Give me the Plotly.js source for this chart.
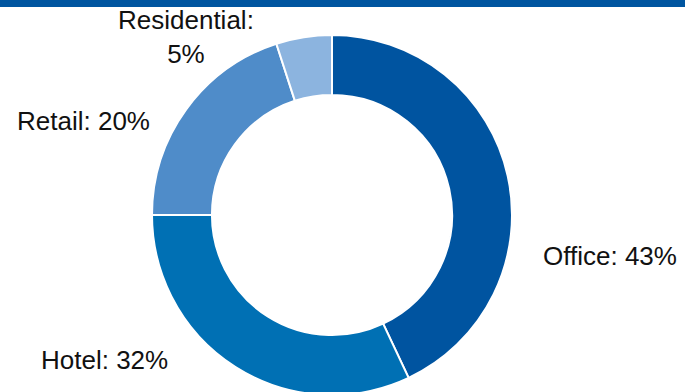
<!DOCTYPE html>
<html>
<head>
<meta charset="utf-8">
<script src="https://cdn.plot.ly/plotly-3.0.1.min.js"></script>
<style>
html,body{margin:0;padding:0;overflow:hidden;background:#fff;}
#chart{width:685px;height:400px;}
</style>
</head>
<body>
<div id="chart"></div>
<script>
const categories = ["Office", "Hotel", "Retail", "Residential"];
const shares = [43, 32, 20, 5];
const labelTexts = ["Office: 43%", "Hotel: 32%", "Retail: 20%", "Residential:<br>5%"];
const colors = ["#0054A0", "#0070B4", "#4F8CC9", "#8CB4DF"];

const W = 685, H = 400;
// label anchor positions in pixels (centre of text)
const labelPos = [[610, 256], [104, 360], [83, 121], [186, 37]];

const annotations = categories.map((c, i) => ({
  x: labelPos[i][0] / W,
  y: 1 - labelPos[i][1] / H,
  xref: "paper", yref: "paper",
  xanchor: "center", yanchor: "middle",
  text: labelTexts[i],
  showarrow: false,
  align: "center",
  font: {family: "Liberation Sans, Arial, sans-serif", size: 26, color: "#111"}
}));

const data = [{
  type: "pie",
  labels: categories,
  values: shares,
  sort: false,
  direction: "clockwise",
  rotation: 0,
  hole: 0.667,
  textinfo: "none",
  hoverinfo: "label+percent",
  marker: {colors: colors, line: {color: "#ffffff", width: 2}},
  domain: {x: [(332 - 180) / W, (332 + 180) / W], y: [1 - (215 + 180) / H, 1 - (215 - 180) / H]},
  showlegend: false
}];

const layout = {
  width: W, height: H,
  margin: {l: 0, r: 0, t: 0, b: 0},
  paper_bgcolor: "#ffffff",
  showlegend: false,
  annotations: annotations,
  shapes: [{
    type: "rect", xref: "paper", yref: "paper",
    x0: 0, x1: 1, y0: 1 - 7 / H, y1: 1,
    fillcolor: "#0055A0", line: {width: 0}
  }]
};

Plotly.newPlot("chart", data, layout, {displayModeBar: false, staticPlot: true});
</script>
</body>
</html>
